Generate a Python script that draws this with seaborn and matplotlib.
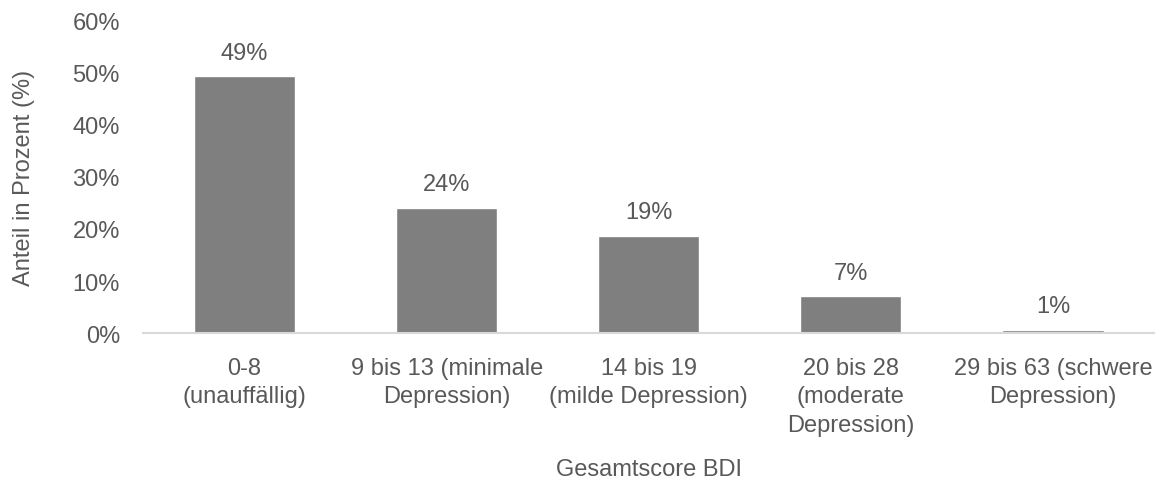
import matplotlib
matplotlib.use("Agg")
import matplotlib.pyplot as plt
import seaborn as sns
import pandas as pd
from matplotlib.ticker import FuncFormatter

categories = [
    "0-8\n(unauffällig)",
    "9 bis 13 (minimale\nDepression)",
    "14 bis 19\n(milde Depression)",
    "20 bis 28\n(moderate\nDepression)",
    "29 bis 63 (schwere\nDepression)",
]
values = [49.4, 24.1, 18.7, 7.1, 0.6]
yticks = [0, 10, 20, 30, 40, 50, 60]

sns.set_theme(style="white")
plt.rcParams['font.family'] = ['Liberation Sans', 'DejaVu Sans']

TXT = "#595959"
FS = 17
df = pd.DataFrame({"cat": categories, "val": values})

fig = plt.figure(figsize=(11.61, 4.81), dpi=100)
ax = fig.add_axes([0.1236, 0.3056, 0.8704, 0.6487])
sns.barplot(data=df, x="cat", y="val", color="#7f7f7f", width=0.5,
            saturation=1, ax=ax)
ax.set_ylim(0, 60)
ax.set_xlim(-0.5, len(categories) - 0.5)
ax.set_yticks(yticks)
ax.yaxis.set_major_formatter(FuncFormatter(lambda v, p: f"{v:.0f}%"))
for spine in ["top", "right", "left"]:
    ax.spines[spine].set_visible(False)
ax.spines["bottom"].set_color("#d9d9d9")
ax.spines["bottom"].set_linewidth(1.5)
ax.tick_params(axis="both", length=0, labelsize=FS, colors=TXT)
ax.tick_params(axis="y", pad=17)
ax.tick_params(axis="x", pad=17)
for lbl in ax.get_xticklabels():
    lbl.set_linespacing(1.38)
for c in ax.containers:
    ax.bar_label(c, labels=[f"{v:.0f}%" for v in values], padding=9,
                 fontsize=FS, color=TXT)
ax.set_xlabel("Gesamtscore BDI", fontsize=FS, color=TXT, labelpad=16)
ax.set_ylabel("Anteil in Prozent (%)", fontsize=FS, color=TXT, labelpad=27)
ax.grid(False)
fig.savefig("out.png", dpi=100)
